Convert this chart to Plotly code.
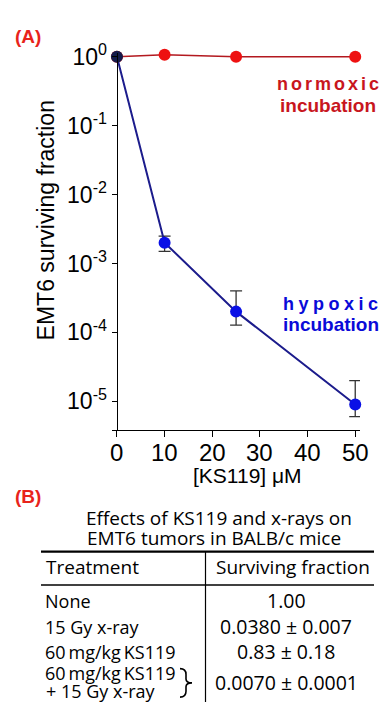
import plotly.graph_objects as go

# ---------------- data ----------------
conc_um = [0, 10, 25, 50]
normoxic_sf = [1.0, 1.07, 1.0, 1.0]
hypoxic_sf = [1.0, 2.0e-3, 2.0e-4, 9.0e-6]
hypoxic_err_hi = [None, 2.5e-3, 4.0e-4, 2.0e-5]
hypoxic_err_lo = [None, 1.5e-3, 1.27e-4, 6.0e-6]

y_tick_exp = [0, -1, -2, -3, -4, -5]
x_tick_vals = [0, 10, 20, 30, 40, 50]

table_title = ["Effects of KS119 and x-rays on", "EMT6 tumors in BALB/c mice"]
table_headers = ["Treatment", "Surviving fraction"]
treatments = ["None", "15 Gy x-ray", "60\u2009mg/kg\u2009KS119", "60\u2009mg/kg\u2009KS119\n+ 15 Gy x-ray"]
sf_mean = ["1.00", "0.0380", "0.83", "0.0070"]
sf_err = [None, "0.007", "0.18", "0.0001"]

# ---------------- helpers ----------------
W, H = 381, 702
def px(x):
    return x / W
def py(y):
    return 1 - y / H

PLOT_FONT = "Liberation Sans, Arial, sans-serif"
TAB_FONT = "Open Sans, Noto Sans, sans-serif"

err_plus = [None if h is None else h - v for h, v in zip(hypoxic_err_hi, hypoxic_sf)]
err_minus = [None if l is None else v - l for l, v in zip(hypoxic_err_lo, hypoxic_sf)]

fig = go.Figure()
fig.add_trace(go.Scatter(
    x=conc_um, y=normoxic_sf, mode="lines+markers",
    line=dict(color="#b3191f", width=1.6),
    marker=dict(color="#ee1111", size=12, line=dict(width=0)),
    cliponaxis=False, showlegend=False))
fig.add_trace(go.Scatter(
    x=conc_um, y=hypoxic_sf, mode="lines+markers",
    line=dict(color="#1c1c8c", width=2),
    marker=dict(color=["#141a4a", "#0a10e6", "#0a10e6", "#0a10e6"], size=12, line=dict(width=0)),
    error_y=dict(type="data", symmetric=False, array=err_plus, arrayminus=err_minus,
                 color="#333333", thickness=1.3, width=6),
    cliponaxis=False, showlegend=False))

Y_TOP = 0.06
fig.update_layout(
    width=W, height=H, margin=dict(l=0, r=0, t=0, b=0),
    paper_bgcolor="white", plot_bgcolor="white",
    font=dict(family=PLOT_FONT, color="black"),
    xaxis=dict(domain=[111.7 / W, 360 / W], range=[-1.1, 51.0],
               tickvals=x_tick_vals, ticks="outside", ticklen=6, tickwidth=1.2,
               tickcolor="black", showline=True, linecolor="black", linewidth=1.3,
               showgrid=False, zeroline=False, anchor="y", showticklabels=False),
    yaxis=dict(domain=[py(425), py(45.5 - Y_TOP * 70.2)], type="log", range=[-5.413, Y_TOP],
               tickvals=[10 ** e for e in y_tick_exp],
               ticktext=["10<sup>%d</sup>" % e for e in y_tick_exp],
               ticks="outside", ticklen=5, tickwidth=1.2, tickcolor="black",
               showline=True, linecolor="black", linewidth=1.3,
               showgrid=False, zeroline=False, anchor="free", position=116.7 / W,
               tickfont=dict(size=23, family=PLOT_FONT, color="black")),
)

ann = []
def add_text(text, x, y, size, color="black", bold=False, family=PLOT_FONT,
             xanchor="center", angle=0, weight=None):
    if bold:
        text = "<b>" + text + "</b>"
    f = dict(size=size, color=color, family=family)
    if weight is not None:
        f["weight"] = weight
    ann.append(dict(text=text, x=px(x), y=py(y), xref="paper", yref="paper",
                    xanchor=xanchor, yanchor="middle", showarrow=False,
                    textangle=angle, font=f))

def spaced(word, sp):
    return sp.join(word)

# x tick labels placed through the x scale
for v in x_tick_vals:
    ann.append(dict(text=str(v), x=v, xref="x", y=py(448.5), yref="paper",
                    xanchor="center", yanchor="middle", showarrow=False,
                    font=dict(size=24, family=PLOT_FONT, color="black")))

# panel labels
add_text("(A)", 28, 25, 19, "#e8231b", bold=True)
add_text("(B)", 28, 493, 19, "#e8231b", bold=True)

# axis titles
add_text("EMT6 surviving fraction", 46, 212, 23, angle=-90)
add_text("[KS119] \u03bcM", 247.5, 472, 21)

# series labels
add_text(spaced("normoxic", "\u2006"), 328, 73, 18, "#c8161e", bold=True)
add_text("incubation", 328, 95, 19, "#c8161e", bold=True)
add_text(spaced("hypoxic", "\u2005"), 330, 297, 18, "#0a0ad8", bold=True)
add_text("incubation", 330.5, 318, 19, "#0a0ad8", bold=True)

# table
TW = 500
add_text(table_title[0], 219, 515, 19, family=TAB_FONT, weight=TW)
add_text(table_title[1], 214, 535, 19, family=TAB_FONT, weight=TW)
add_text(table_headers[0], 44, 565, 19, family=TAB_FONT, xanchor="left", weight=TW)
add_text(table_headers[1], 293, 565, 19, family=TAB_FONT, weight=TW)

row_y = [599, 625.5, 651, 682]
for i, (t, m, e) in enumerate(zip(treatments, sf_mean, sf_err)):
    lines = t.split("\n")
    if len(lines) == 1:
        add_text(lines[0], 43, row_y[i], 18, family=TAB_FONT, xanchor="left", weight=TW)
    else:
        add_text(lines[0], 43, row_y[i] - 9.5, 18, family=TAB_FONT, xanchor="left", weight=TW)
        add_text(lines[1], 44, row_y[i] + 9, 18, family=TAB_FONT, xanchor="left", weight=TW)
    val = m if e is None else "%s \u00b1 %s" % (m, e)
    add_text(val, 286, row_y[i], 19.5, family=TAB_FONT, weight=TW)

fig.update_layout(annotations=ann)

def pth(pts):
    out = []
    for cmd, coords in pts:
        out.append(cmd + " ".join("%.5f,%.5f" % (px(a), py(b)) for a, b in coords))
    return " ".join(out)

brace = pth([
    ("M", [(180, 668)]),
    ("Q", [(186, 668), (186, 674)]),
    ("L", [(186, 678.5)]),
    ("Q", [(186, 682.5), (192, 682.5)]),
    ("Q", [(186, 682.5), (186, 686.5)]),
    ("L", [(186, 691)]),
    ("Q", [(186, 697), (180, 697)]),
])

shapes = [
    dict(type="line", xref="paper", yref="paper", x0=px(41), x1=px(374), y0=py(549), y1=py(549),
         line=dict(color="black", width=2.2)),
    dict(type="line", xref="paper", yref="paper", x0=px(41), x1=px(374), y0=py(583), y1=py(583),
         line=dict(color="black", width=1.6)),
    dict(type="line", xref="paper", yref="paper", x0=px(205.5), x1=px(205.5), y0=py(549), y1=py(702),
         line=dict(color="black", width=1.2)),
    dict(type="path", xref="paper", yref="paper", path=brace,
         line=dict(color="black", width=1.6)),
]
fig.update_layout(shapes=shapes)

fig.write_html("out.html")
